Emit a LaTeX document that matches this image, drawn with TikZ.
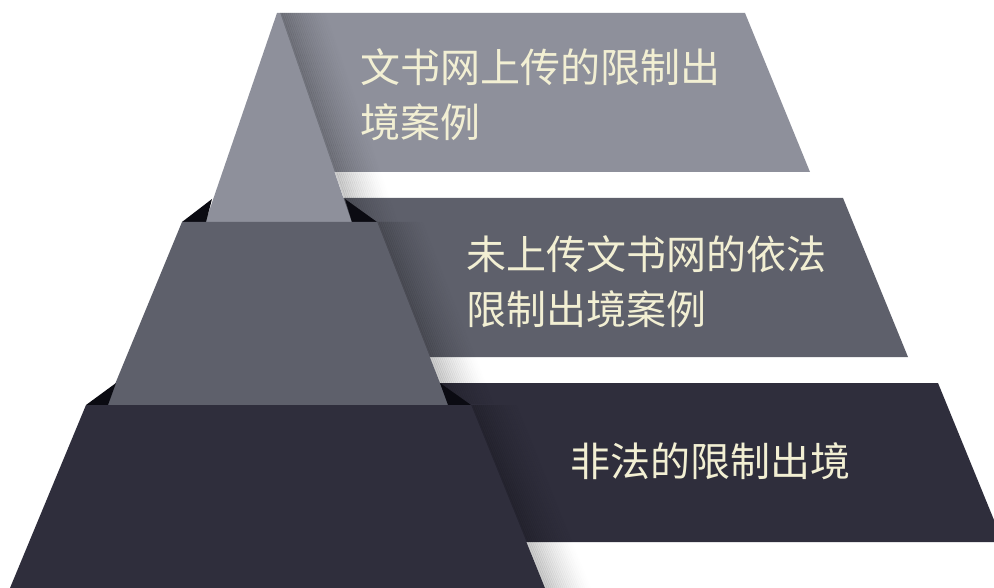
\documentclass[tikz,border=0pt]{standalone}
\usepackage{fontspec}
\newfontfamily\cjk{Noto Sans CJK SC}
\definecolor{cA}{HTML}{8E909B}
\definecolor{cB}{HTML}{5E606B}
\definecolor{cC}{HTML}{2F2E3C}
\definecolor{wedge}{HTML}{0B0B12}
\definecolor{txt}{HTML}{F2EFD3}
\begin{document}
\begin{tikzpicture}[x=1pt,y=-1pt,
  banntext/.style={text=txt, font=\cjk\fontsize{40}{55}\selectfont, align=left, anchor=base west, inner sep=0pt},
  wedgefill/.style={fill=wedge}]
\useasboundingbox (0,0) rectangle (994,588);
\clip (0,0) rectangle (994,588);
\fill[white] (0,0) rectangle (994,588);
% banners
\fill[cA] (280,13) -- (745,13) -- (810,172) -- (300,172) -- cycle;
\fill[cB] (300,198) -- (843,198) -- (908,357) -- (320,357) -- cycle;
\fill[cC] (300,383) -- (938,383) -- (1003,542) -- (320,542) -- cycle;
% soft shadows to the right of the tiers
\foreach \i [evaluate=\i as \op using 0.20*(1-\i/24)^1.5] in {0,...,23}{
  \fill[black, opacity=\op] (280+2*\i,13) -- (352+2*\i,222) -- (354.2+2*\i,222) -- (282.2+2*\i,13) -- cycle;
  \fill[black, opacity=\op] (377+2*\i,222) -- (448+2*\i,404) -- (450.2+2*\i,404) -- (379.2+2*\i,222) -- cycle;
  \fill[black, opacity=\op] (471+2*\i,405) -- (545+2*\i,588) -- (547.2+2*\i,588) -- (473.2+2*\i,405) -- cycle;
}
% tier 1
\fill[cA] (277,13) -- (205,223) -- (352,223) -- (280,13) -- cycle;
% wedges tier 2
\fill[wedgefill] (182,222) -- (212,199) -- (206,222) -- cycle;
\fill[wedgefill] (345,199) -- (377,222) -- (352,222) -- cycle;
% tier 2
\fill[cB] (182,222) -- (377,222) -- (449,406) -- (106,406) -- cycle;
% wedges tier 3
\fill[wedgefill] (86,405) -- (116,383) -- (108,405) -- cycle;
\fill[wedgefill] (440,383) -- (471,405) -- (448,405) -- cycle;
% tier 3
\fill[cC] (86,405) -- (471,405) -- (545,588) -- (10,588) -- cycle;
% texts
\node[banntext] (t1) at (360,138) {文书网上传的限制出\\境案例};
\node[banntext] (t2) at (466,324) {未上传文书网的依法\\限制出境案例};
\node[banntext] (t3) at (570,476) {非法的限制出境};
\end{tikzpicture}
\end{document}
